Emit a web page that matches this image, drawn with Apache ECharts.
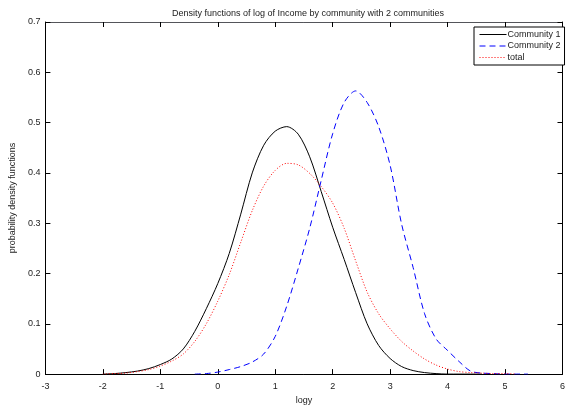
<!DOCTYPE html>
<html>
<head>
<meta charset="utf-8">
<script src="https://cdn.jsdelivr.net/npm/echarts@6/dist/echarts.min.js"></script>
<style>
  html, body { margin: 0; padding: 0; background: #fff; }
  #chart { width: 568px; height: 410px; }
</style>
</head>
<body>
<div id="chart"></div>
<script>
  // x grid (logy), step 0.2
  var logy = [-2.0, -1.8, -1.6, -1.4, -1.2, -1.0, -0.8, -0.6, -0.4, -0.2,
    0.0, 0.2, 0.4, 0.6, 0.8, 1.0, 1.2, 1.4, 1.6, 1.8,
    2.0, 2.2, 2.4, 2.6, 2.8, 3.0, 3.2, 3.4, 3.6, 3.8,
    4.0, 4.2, 4.4, 4.6, 4.8, 5.0, 5.2, 5.4]

  var community1 = [0.000, 0.001, 0.003, 0.006, 0.011, 0.019, 0.030, 0.050, 0.085, 0.130,
    0.180, 0.240, 0.318, 0.400, 0.455, 0.483, 0.492, 0.477, 0.432, 0.363,
    0.292, 0.228, 0.162, 0.100, 0.057, 0.031, 0.015, 0.007, 0.003, 0.001,
    0.000, 0.000, 0.000, 0.000, null, null, null, null]

  var community2 = [null, null, null, null, null, null, null, null, 0.000, 0.001,
    0.004, 0.009, 0.015, 0.024, 0.040, 0.075, 0.135, 0.210, 0.290, 0.385,
    0.478, 0.540, 0.563, 0.540, 0.492, 0.415, 0.298, 0.212, 0.120, 0.070,
    0.047, 0.025, 0.006, 0.002, 0.001, 0.000, 0.000, 0.000]

  var total = [0.000, 0.001, 0.002, 0.005, 0.009, 0.016, 0.026, 0.040, 0.065, 0.100,
    0.145, 0.198, 0.262, 0.325, 0.374, 0.405, 0.419, 0.416, 0.399, 0.373,
    0.340, 0.290, 0.225, 0.163, 0.120, 0.090, 0.065, 0.046, 0.030, 0.018,
    0.010, 0.005, 0.003, 0.002, 0.001, 0.001, 0.000, null]

  var seriesNames = ['Community 1', 'Community 2', 'total']

  function pairs (ys) {
    return logy.map(function (x, i) { return [x, ys[i]] })
  }

  var font = 'Liberation Sans, Arial, sans-serif'
  var chart = echarts.init(document.getElementById('chart'))

  var option = {
    animation: false,
    title: {
      text: 'Density functions of log of Income by community with 2 communities',
      left: 303,
      top: 4,
      textAlign: 'center',
      textStyle: {fontSize: 9, fontWeight: 'normal', color: '#222', fontFamily: font},
    },
    grid: {left: 41, right: 2, top: 22, bottom: 29},
    legend: {
      data: seriesNames,
      orient: 'vertical',
      left: 474,
      top: 27,
      padding: [3, 4, 3, 5],
      itemWidth: 27,
      itemHeight: 8,
      itemGap: 2.5,
      borderColor: '#000',
      borderWidth: 1,
      backgroundColor: '#fff',
      itemStyle: {opacity: 0},
      lineStyle: {width: 1},
      textStyle: {fontSize: 9, color: '#222', fontFamily: font, padding: [0, 0, 0, -4]},
    },
    xAxis: [
      {
        type: 'value', min: -3, max: 6, interval: 1,
        name: 'logy', nameLocation: 'middle', nameGap: 14,
        nameTextStyle: {fontSize: 9, color: '#222'},
        axisLine: {onZero: false, lineStyle: {color: '#000'}},
        axisTick: {show: true, inside: true, length: 5, lineStyle: {color: '#000'}},
        axisLabel: {fontSize: 9, color: '#222'},
        splitLine: {show: false},
      },
      {
        // mirror box edge on top, ticks only
        type: 'value', position: 'top', min: 1, max: 10, interval: 1,
        axisLine: {show: true, onZero: false},
        axisTick: {show: true, inside: true, length: 5, lineStyle: {color: '#000'}},
        axisLabel: {show: false},
        splitLine: {show: false},
      },
    ],
    yAxis: [
      {
        type: 'value', min: 0, max: 0.7, interval: 0.1,
        name: 'probability density functions', nameLocation: 'middle', nameGap: 20,
        nameTextStyle: {fontSize: 9, color: '#222', fontFamily: font},
        axisLine: {show: true, onZeroAxisIndex: 1, lineStyle: {color: '#000'}},
        axisTick: {show: true, inside: true, length: 5, lineStyle: {color: '#000'}},
        axisLabel: {fontSize: 9, color: '#222', margin: 5, fontFamily: font},
        splitLine: {show: false},
      },
      {
        type: 'value', position: 'right', min: 0, max: 0.7, interval: 0.1,
        axisLine: {show: true, onZero: false, lineStyle: {color: '#000'}},
        axisTick: {show: true, inside: true, length: 5},
        axisLabel: {show: false},
        splitLine: {show: false},
      },
    ],
    series: [
      {
        name: seriesNames[0], type: 'line', data: pairs(community1),
        symbol: 'none', smooth: 0.3, color: '#000',
        lineStyle: {color: '#000', width: 1, type: 'solid'},
      },
      {
        name: seriesNames[1], type: 'line', data: pairs(community2),
        symbol: 'none', smooth: 0.3, color: '#0000ff',
        lineStyle: {color: '#0000ff', width: 1, type: [6, 4]},
      },
      {
        name: seriesNames[2], type: 'line', data: pairs(total),
        symbol: 'none', smooth: 0.3, color: '#ff0000',
        lineStyle: {color: '#ff0000', width: 1, type: [1, 2]},
      },
    ],
  }
  chart.setOption(option)
</script>
</body>
</html>
